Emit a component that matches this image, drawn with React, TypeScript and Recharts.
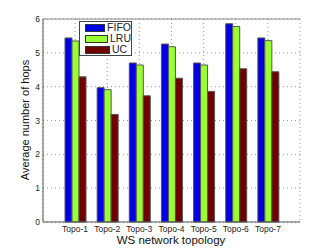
import { Bar, BarChart, CartesianGrid, ReferenceLine, XAxis, YAxis } from "recharts";

const topologies = ["Topo-1", "Topo-2", "Topo-3", "Topo-4", "Topo-5", "Topo-6", "Topo-7"];
const fifo = [5.44, 3.97, 4.7, 5.26, 4.7, 5.86, 5.44];
const lru = [5.35, 3.91, 4.64, 5.18, 4.64, 5.78, 5.36];
const uc = [4.29, 3.18, 3.73, 4.25, 3.86, 4.53, 4.44];
const yTicks = [0, 1, 2, 3, 4, 5, 6];

const series = [
  { key: "FIFO", color: "#0000e6" },
  { key: "LRU", color: "#99ff33" },
  { key: "UC", color: "#6e0000" },
];

const data = topologies.map((name, i) => ({
  name,
  FIFO: fifo[i],
  LRU: lru[i],
  UC: uc[i],
}));

const font = "'Liberation Sans', Arial, sans-serif";

function LegendBox() {
  return (
    <div
      style={{
        position: "absolute",
        left: 79,
        top: 21,
        width: 53,
        height: 35,
        boxSizing: "border-box",
        border: "1px solid #444",
        background: "#fff",
        padding: "0 0 0 5px",
        fontFamily: font,
        fontSize: 10.5,
        lineHeight: "11px",
        color: "#222",
      }}
    >
      {series.map((s) => (
        <div key={s.key} style={{ display: "flex", alignItems: "center", height: 11 }}>
          <span
            style={{
              display: "inline-block",
              width: 23,
              height: 6,
              background: s.color,
              border: "1px solid #333",
              marginRight: 2,
            }}
          />
          {s.key}
        </div>
      ))}
    </div>
  );
}

export default function App() {
  return (
    <div style={{ position: "absolute", left: 0, top: 0, width: 332, height: 250, background: "#fff" }}>
      <BarChart
        width={332}
        height={250}
        data={data}
        margin={{ top: 19, right: 32, bottom: 0, left: 23 }}
        barGap={0}
        barSize={7}
      >
        <CartesianGrid stroke="#999" strokeDasharray="1 3" />
        <XAxis
          dataKey="name"
          padding={{ left: 16, right: 16 }}
          tickLine={false}
          tickSize={0}
          axisLine={{ stroke: "#555" }}
          tick={{ fontSize: 8.5, fill: "#222", fontFamily: font }}
          tickMargin={4}
          height={28}
          interval={0}
          label={() => (
            <text x={171} y={244} textAnchor="middle" fontSize={11.5} fill="#111" fontFamily={font}>
              WS network topology
            </text>
          )}
        />
        <YAxis
          domain={[0, 6]}
          ticks={yTicks}
          width={20}
          tickLine={false}
          tickSize={0}
          axisLine={{ stroke: "#555" }}
          tick={{ fontSize: 8.5, fill: "#222", fontFamily: font }}
          tickMargin={3}
          label={() => (
            <text
              x={29}
              y={120}
              transform="rotate(-90 29 120)"
              textAnchor="middle"
              fontSize={11}
              fill="#111"
              fontFamily={font}
            >
              Average number of hops
            </text>
          )}
        />
        <YAxis yAxisId="r" orientation="right" width={0} tick={false} tickLine={false} axisLine={{ stroke: "#333" }} domain={[0, 6]} />
        <ReferenceLine y={6} stroke="#888" strokeWidth={1} />
        {series.map((s) => (
          <Bar key={s.key} dataKey={s.key} fill={s.color} stroke="#555" strokeWidth={1} isAnimationActive={false} />
        ))}
      </BarChart>
      <LegendBox />
    </div>
  );
}
